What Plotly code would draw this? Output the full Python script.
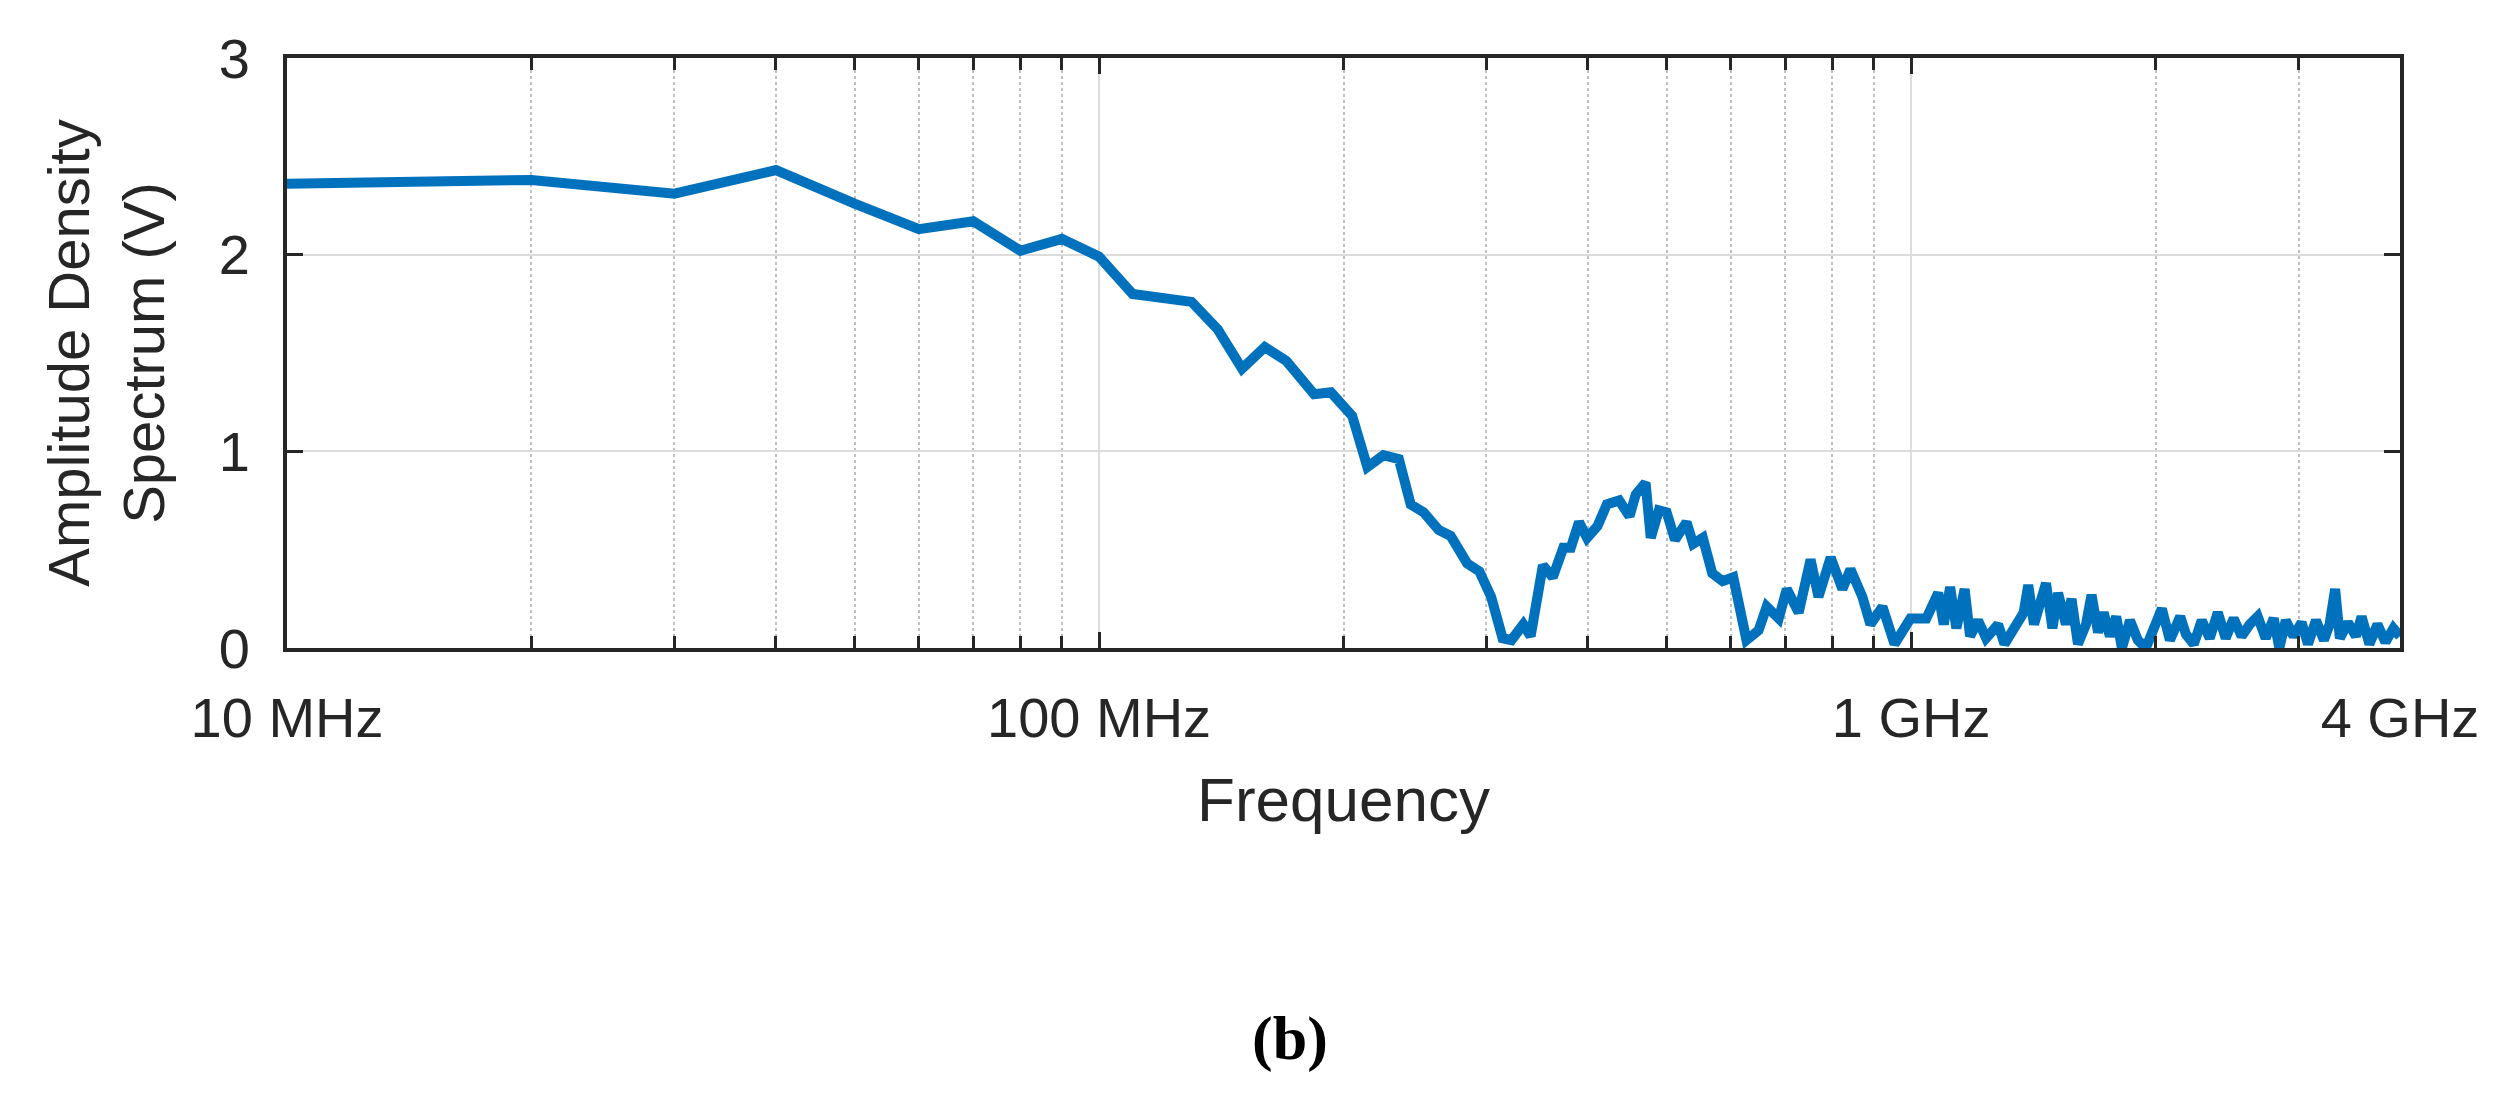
import plotly.graph_objects as go

# frequency in MHz, amplitude in V
freq_mhz = [10, 20, 30, 40, 50, 60, 70, 80, 90, 100, 110, 120, 130, 140, 150, 160, 170, 184, 193, 205,
            214, 224, 234, 242, 251, 262, 271, 284, 294, 304, 314, 322, 333, 340, 352, 362, 373, 381, 390,
            399, 411, 422, 437, 450, 458, 471, 478, 489, 500, 512, 529, 539, 554, 569, 586, 604, 613, 627,
            649, 664, 687, 703, 727, 752, 769, 796, 823, 842, 871, 891, 922, 954, 998,
            1044, 1080, 1097, 1117, 1137, 1164, 1182, 1209, 1237, 1280, 1303, 1339, 1376, 1394, 1417,
            1440, 1466, 1493, 1517, 1551, 1576, 1605, 1642, 1668, 1699, 1726, 1757, 1789, 1818, 1860,
            1902, 1946, 1991, 2036, 2083, 2145, 2180, 2229, 2280, 2332, 2386, 2440, 2496, 2553, 2612,
            2672, 2733, 2796, 2841, 2893, 2958, 3026, 3081, 3152, 3224, 3276, 3328, 3373, 3451, 3530,
            3587, 3668, 3752, 3838, 3926, 4000]
amp_v = [2.36, 2.38, 2.31, 2.43, 2.26, 2.13, 2.17, 2.02, 2.08, 1.99, 1.80, 1.78, 1.76, 1.62, 1.42, 1.53, 1.46, 1.29, 1.30, 1.18,
         0.92, 0.98, 0.96, 0.73, 0.69, 0.60, 0.57, 0.43, 0.39, 0.26, 0.05, 0.04, 0.12, 0.06, 0.42, 0.36, 0.51, 0.51, 0.64,
         0.56, 0.62, 0.73, 0.75, 0.67, 0.78, 0.84, 0.56, 0.70, 0.69, 0.55, 0.64, 0.53, 0.56, 0.38, 0.34, 0.36, 0.23, 0.04,
         0.09, 0.21, 0.15, 0.30, 0.18, 0.45, 0.26, 0.46, 0.30, 0.40, 0.26, 0.12, 0.21, 0.02, 0.15,
         0.15, 0.28, 0.12, 0.31, 0.10, 0.30, 0.06, 0.14, 0.05, 0.12, 0.02, 0.10, 0.18, 0.32, 0.12,
         0.22, 0.33, 0.10, 0.28, 0.12, 0.25, 0.02, 0.12, 0.27, 0.08, 0.18, 0.06, 0.16, 0.00, 0.14,
         0.04, 0.00, 0.10, 0.20, 0.04, 0.16, 0.07, 0.02, 0.14, 0.05, 0.18, 0.05, 0.15, 0.06, 0.12,
         0.16, 0.05, 0.15, 0.00, 0.14, 0.06, 0.13, 0.02, 0.14, 0.04, 0.12, 0.30, 0.05, 0.13, 0.06,
         0.16, 0.02, 0.12, 0.03, 0.10, 0.06]

freq_hz = [f * 1e6 for f in freq_mhz]
tick_vals = [1e7, 1e8, 1e9, 4e9]
tick_text = ['10 MHz', '100 MHz', '1 GHz', '4 GHz']

fig = go.Figure()
fig.add_trace(go.Scatter(x=freq_hz, y=amp_v, mode='lines',
                         line=dict(color='#0072BD', width=10)))

axis_font = dict(family='Liberation Sans, Arial', size=56, color='#262626')
fig.update_layout(
    width=2496, height=1115,
    paper_bgcolor='white', plot_bgcolor='white',
    margin=dict(l=279, r=104, t=50, b=475),
    showlegend=False,
    font=axis_font,
    xaxis=dict(type='log', range=[7, 9.60206], tickvals=tick_vals, ticktext=tick_text,
               showline=True, linecolor='#262626', linewidth=4, mirror='ticks',
               ticks='inside', ticklen=16, tickwidth=3, tickcolor='#262626',
               showgrid=True, gridcolor='#dcdcdc', gridwidth=2, ticklabelstandoff=18,
               minor=dict(dtick='D1', ticks='inside', ticklen=12, tickcolor='#262626',
                          showgrid=True, gridcolor='#c0c0c0', griddash='dot', gridwidth=2),
               title=dict(text='Frequency', font=dict(size=62), standoff=30), zeroline=False),
    yaxis=dict(range=[0, 3], tickvals=[0, 1, 2, 3],
               showline=True, linecolor='#262626', linewidth=4, mirror='ticks',
               ticks='inside', ticklen=16, tickwidth=3, tickcolor='#262626', ticklabelstandoff=22,
               showgrid=True, gridcolor='#dcdcdc', gridwidth=2, zeroline=False,
               title=dict(text='Amplitude Density<br>Spectrum (V)', font=dict(size=58), standoff=36)),
    annotations=[dict(text='<b>(b)</b>', x=(1282 - 279) / 2113, y=(640 - 1030) / 590,
                      xref='paper', yref='paper', xanchor='center', yanchor='middle',
                      showarrow=False,
                      font=dict(family='Liberation Serif, Times New Roman', size=62, color='black'))],
)
fig.write_html('out.html')
